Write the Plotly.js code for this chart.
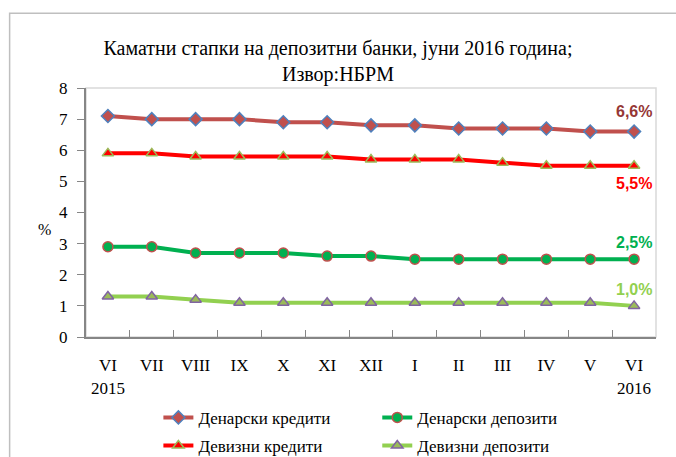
<!DOCTYPE html>
<html>
<head>
<meta charset="utf-8">
<script src="https://cdn.plot.ly/plotly-3.0.1.min.js"></script>
<style>
  html, body { margin: 0; padding: 0; background: #fff; }
  #chart { width: 676px; height: 457px; }
</style>
</head>
<body>
<div id="chart"></div>
<script>
/* ── DATA ──────────────────────────────── */
const months = ['VI<br>2015', 'VII', 'VIII', 'IX', 'X', 'XI', 'XII', 'I', 'II', 'III', 'IV', 'V', 'VI<br>2016'];
const monthKeys = ['VI15', 'VII', 'VIII', 'IX', 'X', 'XI', 'XII', 'I', 'II', 'III', 'IV', 'V', 'VI16'];

const denKrediti  = [7.1, 7.0, 7.0, 7.0, 6.9, 6.9, 6.8, 6.8, 6.7, 6.7, 6.7, 6.6, 6.6];
const devKrediti  = [5.9, 5.9, 5.8, 5.8, 5.8, 5.8, 5.7, 5.7, 5.7, 5.6, 5.5, 5.5, 5.5];
const denDepoziti = [2.9, 2.9, 2.7, 2.7, 2.7, 2.6, 2.6, 2.5, 2.5, 2.5, 2.5, 2.5, 2.5];
const devDepoziti = [1.3, 1.3, 1.2, 1.1, 1.1, 1.1, 1.1, 1.1, 1.1, 1.1, 1.1, 1.1, 1.0];

const yTicks = [0, 1, 2, 3, 4, 5, 6, 7, 8];

/* ── STYLE ─────────────────────────────── */
const SERIF = 'Liberation Serif, Times New Roman, serif';
const NARROW = 'Liberation Sans Narrow, Liberation Sans, sans-serif';

function series(name, y, lineColor, symbol, fill, outline, legend) {
  return {
    type: 'scatter',
    mode: 'lines+markers',
    name,
    x: monthKeys,
    y,
    legend,
    legendgroup: name,
    line: { color: lineColor, width: 4 },
    marker: { symbol, size: 10, color: fill, line: { color: outline, width: 1.5 } },
    hoverinfo: 'y',
  };
}

const traces = [
  series('Денарски кредити', denKrediti, '#C0504D', 'diamond', '#C0504D', '#4F81BD', 'legend'),
  series('Девизни кредити', devKrediti, '#FF0000', 'triangle-up', '#FF0000', '#9BBB59', 'legend'),
  series('Денарски депозити', denDepoziti, '#00B050', 'circle', '#00B050', '#C0504D', 'legend2'),
  series('Девизни депозити', devDepoziti, '#92D050', 'triangle-up', '#9BBB59', '#8064A2', 'legend2'),
];

const last = monthKeys[monthKeys.length - 1];
function endLabel(y, text, color, yshift) {
  return {
    x: last, y, xref: 'x', yref: 'y', text, showarrow: false, yshift,
    font: { family: NARROW, size: 16, color, weight: 'bold' },
  };
}

// two legend columns in the bottom band (container y so they don't push margins)
const legendBase = {
  orientation: 'v',
  font: { family: SERIF, size: 17, color: '#000' },
  bgcolor: 'rgba(0,0,0,0)',
  tracegroupgap: 3,
  xref: 'paper',
  yref: 'container',
  xanchor: 'left',
  yanchor: 'top',
};

const layout = {
  width: 676,
  height: 457,
  paper_bgcolor: '#fff',
  plot_bgcolor: '#fff',
  margin: { l: 86, r: 20, t: 88, b: 120 },
  font: { family: SERIF, color: '#000' },
  title: {
    text: 'Каматни стапки на депозитни банки, јуни 2016 година;<br>Извор:НБРМ',
    x: 0.5, xref: 'container', xanchor: 'center',
    y: 0.88, yref: 'container', yanchor: 'middle',
    font: { family: SERIF, size: 20, color: '#000' },
  },
  xaxis: {
    type: 'category',
    range: [-0.5, monthKeys.length - 0.5],
    tickvals: monthKeys,
    ticktext: months,
    tickangle: 0,
    automargin: false,
    tickson: 'boundaries',
    ticks: 'inside',
    ticklen: 7,
    tickcolor: '#868686',
    showline: true,
    linecolor: '#868686',
    linewidth: 2,
    showgrid: false,
    zeroline: false,
    ticklabelstandoff: 12,
    tickfont: { family: SERIF, size: 17, color: '#000' },
  },
  yaxis: {
    range: [0, 8],
    tickvals: yTicks,
    automargin: false,
    ticks: 'outside',
    ticklen: 7,
    tickcolor: '#868686',
    showline: true,
    linecolor: '#868686',
    linewidth: 2,
    showgrid: false,
    zeroline: false,
    ticklabelstandoff: 6,
    tickfont: { family: SERIF, size: 17, color: '#000' },
  },
  shapes: [
    // thin frame on top/right of plot area
    { type: 'rect', xref: 'paper', yref: 'paper', x0: 0, x1: 1, y0: 0, y1: 1,
      line: { color: '#D9D9D9', width: 1.5 }, layer: 'below' },
    // outer chart border
    { type: 'rect', xref: 'paper', yref: 'paper', x0: -0.134, x1: 1.2, y0: -1, y1: 1.3,
      line: { color: '#BFBFBF', width: 1.5 }, layer: 'below' },
  ],
  annotations: [
    { x: -0.088, y: 3.45, xref: 'paper', yref: 'y', text: '%', showarrow: false,
      font: { family: SERIF, size: 16, color: '#000' } },
    endLabel(6.6, '6,6%', '#953735', 20),
    endLabel(5.5, '5,5%', '#FF0000', -18),
    endLabel(2.5, '2,5%', '#00B050', 17),
    endLabel(1.0, '1,0%', '#92D050', 16),
  ],
  showlegend: true,
  legend:  { ...legendBase, x: 0.127, y: 0.125 },
  legend2: { ...legendBase, x: 0.511, y: 0.125 },
};

Plotly.newPlot('chart', traces, layout, { displayModeBar: false, staticPlot: true });
</script>
</body>
</html>
